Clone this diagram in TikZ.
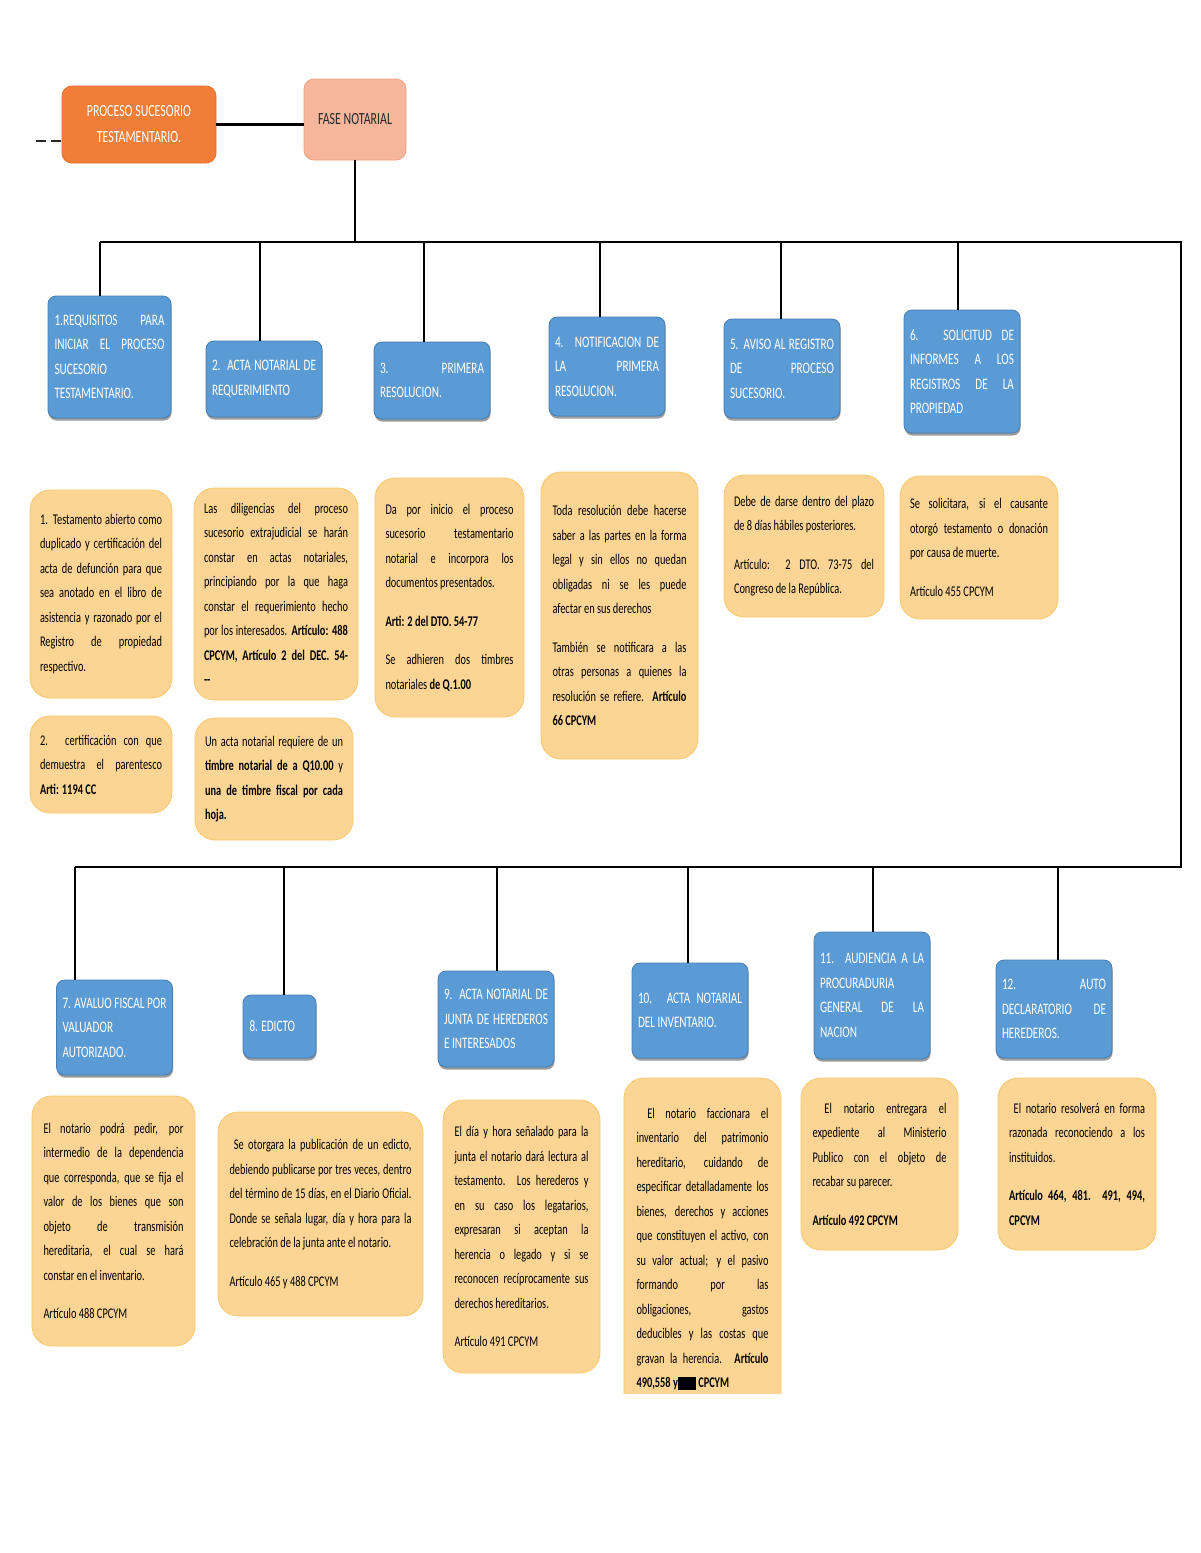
\documentclass[tikz,border=0pt]{standalone}
\usepackage{fontspec}
\setmainfont[FakeStretch=0.7]{Carlito}
\usetikzlibrary{shadows}
\definecolor{bluefill}{RGB}{91,155,213}
\definecolor{blueline}{RGB}{70,125,180}
\definecolor{yelfill}{RGB}{252,213,148}
\definecolor{yelline}{RGB}{247,200,110}
\definecolor{orfill}{RGB}{240,126,56}
\definecolor{orline}{RGB}{235,110,40}
\definecolor{safill}{RGB}{245,182,155}
\definecolor{saline}{RGB}{238,160,128}
\definecolor{darktext}{RGB}{40,40,40}
\newcommand\bxfont{\fontsize{8}{12.25}\selectfont\tolerance=10000\hbadness=10000\hyphenpenalty=10000\exhyphenpenalty=10000}
\newcommand\yxfont{\fontsize{7.4}{12.25}\selectfont\tolerance=10000\hbadness=10000\hyphenpenalty=10000\exhyphenpenalty=10000}
\newcommand\psk{\par\vspace{7pt}}
\begin{document}
\begin{tikzpicture}[x=0.5pt,y=-0.5pt,
  bb/.style={draw=blueline, fill=bluefill, rounded corners=4pt, text=white, align=justify,
    font=\bxfont, inner xsep=3pt, inner ysep=0pt,
    drop shadow={shadow xshift=0.3pt, shadow yshift=-1.3pt, opacity=0.55, fill=black!70}},
  yb/.style={draw=yelline, fill=yelfill, rounded corners=10pt, text=black, align=justify,
    font=\yxfont, inner xsep=5pt, inner ysep=0pt},
  bus/.style={line width=1.3pt, draw=black},
  drop/.style={line width=0.8pt, draw=black},
  link/.style={line width=1.6pt, draw=black}]
\useasboundingbox[fill=white] (0,0) rectangle (1200,1553);

% header
\node[draw=orline, fill=orfill, rounded corners=5pt, text=white, align=center,
  font=\fontsize{8.5}{13}\selectfont, minimum width=77pt, minimum height=38.5pt, inner sep=0pt]
  (orange) at (139,124.5) {PROCESO SUCESORIO\\TESTAMENTARIO.};
\node[draw=saline, fill=safill, rounded corners=5pt, text=darktext, align=center,
  font=\fontsize{8.5}{13}\selectfont, minimum width=51pt, minimum height=40.5pt, inner sep=0pt]
  (fase) at (355,119.5) {FASE NOTARIAL};
\coordinate (dashEnd) at (36,141);
\draw[line width=0.7pt, dash pattern=on 5pt off 2.5pt, draw=darktext] (dashEnd) -- (dashEnd -| orange.west);
\draw[link] (orange.east) -- (orange.east -| fase.west);

% buses
\coordinate (busL) at (100,242);
\coordinate (busR) at (1181,242);
\coordinate (bus2R) at (1181,867);
\coordinate (bus2L) at (75,867);
\draw[drop] (fase.south) -- (fase.south |- busL);
\draw[bus] (busL) -- (busR) -- (bus2R) -- (bus2L);

% row 1 blue
\node[bb, minimum width=61.5pt, minimum height=61pt, text width=55pt] (b1) at (109.5,357)
  {1.REQUISITOS PARA\linebreak INICIAR EL PROCESO\linebreak SUCESORIO\linebreak TESTAMENTARIO.};
\node[bb, minimum width=58pt, minimum height=38pt, text width=52pt] (b2) at (264,379)
  {2. ACTA NOTARIAL DE\linebreak REQUERIMIENTO};
\node[bb, minimum width=58pt, minimum height=38.5pt, text width=52pt] (b3) at (432,380.5)
  {3. PRIMERA\linebreak RESOLUCION.};
\node[bb, minimum width=58pt, minimum height=49.5pt, text width=52pt] (b4) at (607,366.5)
  {4. NOTIFICACION DE\linebreak LA PRIMERA\linebreak RESOLUCION.};
\node[bb, minimum width=58pt, minimum height=49.5pt, text width=52pt] (b5) at (782,368.5)
  {5. AVISO AL REGISTRO\linebreak DE PROCESO\linebreak SUCESORIO.};
\node[bb, minimum width=58pt, minimum height=61.5pt, text width=52pt] (b6) at (962,371.5)
  {6. SOLICITUD DE\linebreak INFORMES A LOS\linebreak REGISTROS DE LA\linebreak PROPIEDAD};

\coordinate (r1a) at (100,242);
\coordinate (r1b) at (260,242);
\coordinate (r1c) at (424,242);
\coordinate (r1d) at (600,242);
\coordinate (r1e) at (781,242);
\coordinate (r1f) at (958,242);
\draw[drop] (r1a) -- (r1a |- b1.north);
\draw[drop] (r1b) -- (r1b |- b2.north);
\draw[drop] (r1c) -- (r1c |- b3.north);
\draw[drop] (r1d) -- (r1d |- b4.north);
\draw[drop] (r1e) -- (r1e |- b5.north);
\draw[drop] (r1f) -- (r1f |- b6.north);

% row 1 yellow
\node[yb, minimum width=71pt, minimum height=104pt, text width=61pt] (y1a) at (101,594)
  {1. Testamento abierto como\linebreak duplicado y certificación del\linebreak acta de defunción para que\linebreak sea anotado en el libro de\linebreak asistencia y razonado por el\linebreak Registro de propiedad\linebreak respectivo.};
\node[yb, minimum width=71pt, minimum height=48.5pt, text width=61pt] (y1b) at (101,764.5)
  {2. certificación con que\linebreak demuestra el parentesco\linebreak \textbf{Arti: 1194 CC}};
\node[yb, minimum width=82pt, minimum height=106pt, text width=72pt] (y2a) at (276,594)
  {Las diligencias del proceso\linebreak sucesorio extrajudicial se harán\linebreak constar en actas notariales,\linebreak principiando por la que haga\linebreak constar el requerimiento hecho\linebreak por los interesados. \textbf{Artículo: 488\linebreak CPCYM, Artículo 2 del DEC. 54-\linebreak -{}-}};
\node[yb, minimum width=79pt, minimum height=61pt, text width=69pt] (y2b) at (274,779)
  {Un acta notarial requiere de un\linebreak \textbf{timbre notarial de a Q10.00} y\linebreak \textbf{una de timbre fiscal por cada\linebreak hoja.}};
\node[yb, minimum width=74.5pt, minimum height=119.5pt, text width=64pt] (y3) at (449.5,597.5)
  {Da por inicio el proceso\linebreak sucesorio testamentario\linebreak notarial e incorpora los\linebreak documentos presentados.\psk \textbf{Arti: 2 del DTO. 54-77}\psk Se adhieren dos timbres\linebreak notariales \textbf{de Q.1.00}};
\node[yb, minimum width=78.5pt, minimum height=143.5pt, text width=67pt] (y4) at (619.5,615.5)
  {Toda resolución debe hacerse\linebreak saber a las partes en la forma\linebreak legal y sin ellos no quedan\linebreak obligadas ni se les puede\linebreak afectar en sus derechos\psk También se notificara a las\linebreak otras personas a quienes la\linebreak resolución se refiere. \textbf{Artículo\linebreak 66 CPCYM}};
\node[yb, minimum width=80pt, minimum height=71pt, text width=70pt] (y5) at (804,546)
  {Debe de darse dentro del plazo\linebreak de 8 días hábiles posteriores.\psk Artículo: 2 DTO. 73-75 del\linebreak Congreso de la República.};
\node[yb, minimum width=79pt, minimum height=71.5pt, text width=69pt] (y6) at (979,547.5)
  {Se solicitara, si el causante\linebreak otorgó testamento o donación\linebreak por causa de muerte.\psk Artículo 455 CPCYM};

% row 2 blue
\node[bb, minimum width=57.5pt, minimum height=47.5pt, text width=52pt] (b7) at (114.5,1027.5)
  {7. AVALUO FISCAL POR\linebreak VALUADOR\linebreak AUTORIZADO.};
\node[bb, minimum width=36.5pt, minimum height=31.5pt, text width=30pt] (b8) at (279.5,1026.5)
  {8. EDICTO};
\node[bb, minimum width=57pt, minimum height=48pt, text width=52pt] (b9) at (496,1019)
  {9. ACTA NOTARIAL DE\linebreak JUNTA DE HEREDEROS\linebreak E INTERESADOS};
\node[bb, minimum width=58pt, minimum height=47.5pt, text width=52pt] (b10) at (690,1010.5)
  {10. ACTA NOTARIAL\linebreak DEL INVENTARIO.};
\node[bb, minimum width=58pt, minimum height=63.5pt, text width=52pt] (b11) at (872,995.5)
  {11. AUDIENCIA A LA\linebreak PROCURADURIA\linebreak GENERAL DE LA\linebreak NACION};
\node[bb, minimum width=58pt, minimum height=49pt, text width=52pt] (b12) at (1054,1009)
  {12. AUTO\linebreak DECLARATORIO DE\linebreak HEREDEROS.};

\coordinate (r2a) at (75,867);
\coordinate (r2b) at (284,867);
\coordinate (r2c) at (497,867);
\coordinate (r2d) at (688,867);
\coordinate (r2e) at (873,867);
\coordinate (r2f) at (1058,867);
\draw[drop] (r2a) -- (r2a |- b7.north);
\draw[drop] (r2b) -- (r2b |- b8.north);
\draw[drop] (r2c) -- (r2c |- b9.north);
\draw[drop] (r2d) -- (r2d |- b10.north);
\draw[drop] (r2e) -- (r2e |- b11.north);
\draw[drop] (r2f) -- (r2f |- b12.north);

% row 2 yellow
\node[yb, minimum width=81.5pt, minimum height=125pt, text width=70pt] (y7) at (113.5,1221)
  {El notario podrá pedir, por\linebreak intermedio de la dependencia\linebreak que corresponda, que se fija el\linebreak valor de los bienes que son\linebreak objeto de transmisión\linebreak hereditaria, el cual se hará\linebreak constar en el inventario.\psk Artículo 488 CPCYM};
\node[yb, minimum width=102.5pt, minimum height=102pt, text width=91pt] (y8) at (320.5,1214)
  {\ Se otorgara la publicación de un edicto,\linebreak debiendo publicarse por tres veces, dentro\linebreak del término de 15 días, en el Diario Oficial.\linebreak Donde se señala lugar, día y hora para la\linebreak celebración de la junta ante el notario.\psk Artículo 465 y 488 CPCYM};
\node[yb, minimum width=78.5pt, minimum height=136.5pt, text width=67pt] (y9) at (521.5,1236.5)
  {El día y hora señalado para la\linebreak junta el notario dará lectura al\linebreak testamento. Los herederos y\linebreak en su caso los legatarios,\linebreak expresaran si aceptan la\linebreak herencia o legado y si se\linebreak reconocen recíprocamente sus\linebreak derechos hereditarios.\psk Artículo 491 CPCYM};
\begin{scope}
\clip (600,1000) rectangle (820,1393);
\node[yb, minimum width=78.5pt, minimum height=171pt, text width=66pt] (y10) at (702.5,1249)
  {\ El notario faccionara el\linebreak inventario del patrimonio\linebreak hereditario, cuidando de\linebreak especificar detalladamente los\linebreak bienes, derechos y acciones\linebreak que constituyen el activo, con\linebreak su valor actual; y el pasivo\linebreak formando por las\linebreak obligaciones, gastos\linebreak deducibles y las costas que\linebreak gravan la herencia. \textbf{Artículo\linebreak 490,558 y\rule[-1pt]{9pt}{6.5pt} CPCYM}};
\end{scope}
\node[yb, minimum width=78.5pt, minimum height=86pt, text width=67pt] (y11) at (879.5,1164)
  {\ El notario entregara el\linebreak expediente al Ministerio\linebreak Publico con el objeto de\linebreak recabar su parecer.\psk \textbf{Artículo 492 CPCYM}};
\node[yb, minimum width=79pt, minimum height=86pt, text width=68pt] (y12) at (1077,1164)
  {\ El notario resolverá en forma\linebreak razonada reconociendo a los\linebreak instituidos.\psk \textbf{Artículo 464, 481. 491, 494,\linebreak CPCYM}};
\end{tikzpicture}
\end{document}
